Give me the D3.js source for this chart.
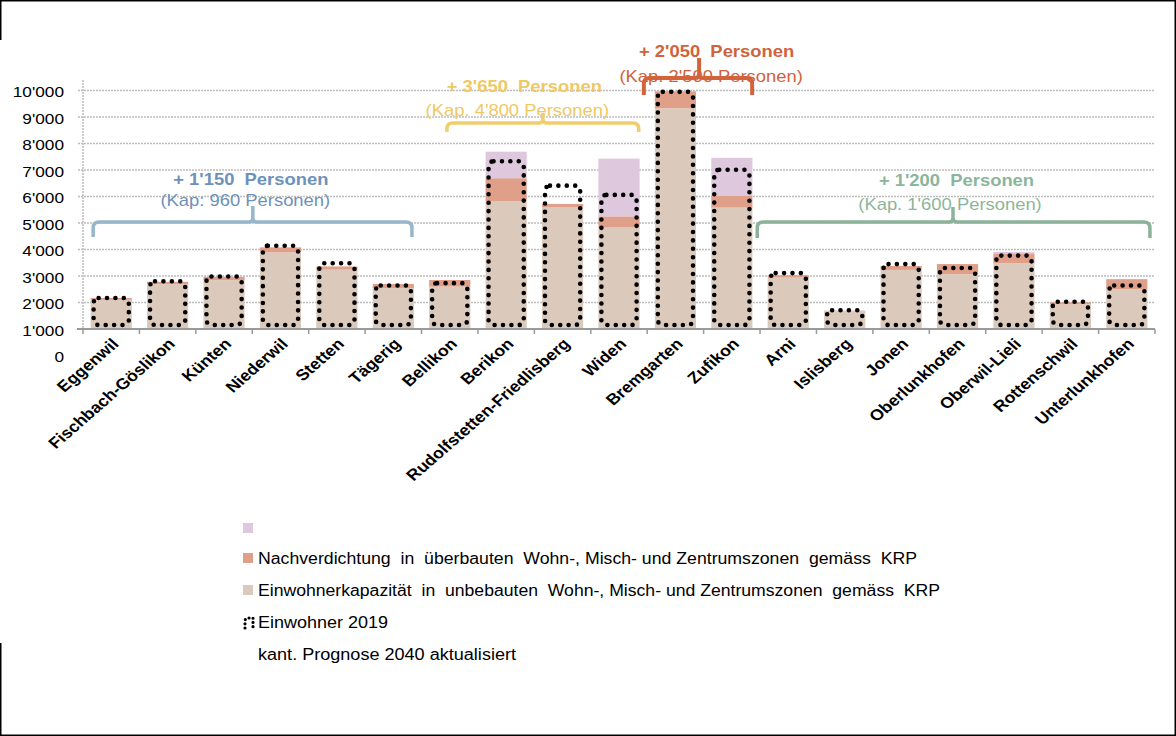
<!DOCTYPE html>
<html><head><meta charset="utf-8">
<script src="https://cdn.jsdelivr.net/npm/d3@7"></script>
<style>body{margin:0;background:#fff}svg{display:block}text{font-family:Arial,"Liberation Sans",sans-serif}</style>
</head><body><svg id="c" width="1176" height="736"></svg>
<script>
// ---------- data ----------
const categories = ["Eggenwil","Fischbach-Göslikon","Künten","Niederwil","Stetten","Tägerig","Bellikon","Berikon","Rudolfstetten-Friedlisberg","Widen","Bremgarten","Zufikon","Arni","Islisberg","Jonen","Oberlunkhofen","Oberwil-Lieli","Rottenschwil","Unterlunkhofen"];
// Einwohnerkapazität in unbebauten Zonen (beige)
const kapazitaet      = [1100,1690,1840,2890,2240,1540,1600,4820,4590,3830,8330,4580,1940,670,2230,2070,2480,930,1510];
// Nachverdichtung in überbauten Zonen (salmon)
const nachverdichtung = [70,90,130,190,120,160,250,870,130,420,640,460,90,20,150,380,350,80,370];
// unnamed series (lilac)
const ohneName        = [0,0,0,0,0,0,0,1000,0,2180,0,1420,0,0,0,0,80,0,0];
// Einwohner 2019 (dotted outline)
const einwohner2019   = [1170,1800,1980,3140,2480,1640,1730,6330,5410,5060,8950,6010,2110,710,2450,2300,2770,1030,1640];
const yTicks = [0,1000,2000,3000,4000,5000,6000,7000,8000,9000,10000];
const axisMin = 1000;
const seriesColors = ["#dbcabc","#df9f88","#ddc8dd"];
const legendLabels = ["", "Nachverdichtung  in  überbauten  Wohn-, Misch- und Zentrumszonen  gemäss  KRP", "Einwohnerkapazität  in  unbebauten  Wohn-, Misch- und Zentrumszonen  gemäss  KRP", "Einwohner 2019", "kant. Prognose 2040 aktualisiert"];
// annotations (brace groups)
const annoTitles = ["+ 1'150  Personen","+ 3'650  Personen","+ 2'050  Personen","+ 1'200  Personen"];
const annoSubs   = ["(Kap: 960 Personen)","(Kap. 4'800 Personen)","(Kap. 2'500 Personen)","(Kap. 1'600 Personen)"];
const annoFrom   = [-0.32, 5.95, 9.44, 11.45];   // category units
const annoTo     = [5.33, 9.35, 11.36, 18.41];
const annoTip    = [2.51, 7.65, 10.42, 14.92];
const annoLevel  = [5040, 8770, 10470, 5040];     // value units of brace bar
const annoTextColors  = ["#6e91b9","#efc863","#d0633b","#8bb69b"];
const annoBraceColors = ["#98b6c9","#f1cd6d","#d3633b","#8cb39a"];

// ---------- layout ----------
const SX = 1.15;
const svg = d3.select("#c");
const W = 1176, H = 736;
const x0 = 83, x1 = 1155;
const x = d3.scaleBand().domain(categories).range([x0, x1]).paddingInner(0.27).paddingOuter(0.135);
const step = x.step();
const catPos = v => x0 + (v + 0.5) * step;
const y = d3.scaleLinear().domain([axisMin, 10000]).range([329, 90.5]);
const fmt = d3.formatLocale({thousands:"'", grouping:[3], decimal:".", currency:["",""]}).format(",");

// frame
svg.append("rect").attr("x",0.75).attr("y",0.75).attr("width",W-1.5).attr("height",H-1.5)
  .attr("fill","none").attr("stroke","#000").attr("stroke-width",1.5);
svg.append("rect").attr("x",-1).attr("y",40).attr("width",4).attr("height",603).attr("fill","#fff");

// gridlines
svg.append("g").selectAll("line").data(yTicks.filter(t => t > axisMin)).join("line")
  .attr("x1", x0 - 5).attr("x2", x1).attr("y1", d => y(d)).attr("y2", d => y(d))
  .attr("stroke","#bdbdbd").attr("stroke-width",1.5).attr("stroke-dasharray","2,1");
svg.append("line").attr("x1",x0).attr("x2",x0).attr("y1",80).attr("y2",y(axisMin))
  .attr("stroke","#bdbdbd").attr("stroke-width",1.5).attr("stroke-dasharray","2,1");

// y labels
const yAxis = d3.axisLeft(y).tickValues(yTicks).tickFormat(fmt).tickSize(0);
const yg = svg.append("g").attr("transform",`translate(${x0},0)`).call(yAxis);
yg.select(".domain").remove();
yg.selectAll("text").attr("x",0).attr("dy","0.4em")
  .attr("transform",`translate(-19,0) scale(${SX},1)`)
  .attr("font-size",15).attr("font-family","Arial, 'Liberation Sans', sans-serif").attr("fill","#000");

// stacked bars
const series = [kapazitaet, nachverdichtung, ohneName];
const bars = svg.append("g");
categories.forEach((c, i) => {
  let cum = axisMin;
  series.forEach((s, k) => {
    const v = s[i];
    if (v > 0) {
      bars.append("rect").attr("x", x(c)).attr("width", x.bandwidth())
        .attr("y", y(cum + v)).attr("height", y(cum) - y(cum + v)).attr("fill", seriesColors[k]);
    }
    cum += v;
  });
});

// dotted outlines (Einwohner 2019)
svg.append("g").selectAll("rect").data(categories).join("rect")
  .attr("x", d => x(d) + 3).attr("width", x.bandwidth() - 6)
  .attr("y", (d, i) => y(axisMin + einwohner2019[i]))
  .attr("height", (d, i) => y(axisMin) - 4 - y(axisMin + einwohner2019[i]))
  .attr("rx", 5).attr("ry", 5)
  .attr("fill","none").attr("stroke","#000").attr("stroke-width",4.6)
  .attr("stroke-linecap","round").attr("stroke-dasharray","0 8.4");

// x axis
svg.append("line").attr("x1", x0 - 6).attr("x2", x1).attr("y1", y(axisMin)).attr("y2", y(axisMin))
  .attr("stroke","#9a9a9a").attr("stroke-width",2);
svg.append("g").selectAll("line").data(d3.range(categories.length + 1)).join("line")
  .attr("x1", i => x0 + i * step).attr("x2", i => x0 + i * step)
  .attr("y1", y(axisMin)).attr("y2", y(axisMin) + 5)
  .attr("stroke","#9a9a9a").attr("stroke-width",1.5);
svg.append("g").selectAll("text").data(categories).join("text")
  .attr("transform", d => `translate(${x(d) + x.bandwidth()/2 + 4},341) scale(${SX},1) rotate(-45)`)
  .attr("text-anchor","end").attr("dy","0.35em")
  .attr("font-size",15.5).attr("font-weight","bold").attr("fill","#000")
  .text(d => d);

// braces and annotation text
const titleDx = [-2, -18.5, 17.5, 3.5], subDx = [-7.5, -25.5, 12, -3];
const titleDy = [-37, -31, -21, -36], subDy = [-16, -7, 4, -12];
const drops = [15, 9, 17, 16], rises = [16, 10, 20, 15];
annoTitles.forEach((t, i) => {
  const xa = catPos(annoFrom[i]), xb = catPos(annoTo[i]), xt = catPos(annoTip[i]);
  const yh = y(annoLevel[i]);
  const drop = drops[i], rise = rises[i];
  const r = 6, s = 4;
  const g = svg.append("g");
  const tx1 = xt + titleDx[i], tx2 = xt + subDx[i];
  g.append("text").attr("x", tx1).attr("y", yh + titleDy[i])
    .attr("transform", `translate(${tx1},0) scale(${SX},1) translate(${-tx1},0)`)
    .attr("text-anchor","middle").attr("font-size",16).attr("font-weight","bold")
    .attr("fill", annoTextColors[i]).style("white-space","pre").text(t);
  g.append("text").attr("x", tx2).attr("y", yh + subDy[i])
    .attr("transform", `translate(${tx2},0) scale(${SX},1) translate(${-tx2},0)`)
    .attr("text-anchor","middle").attr("font-size",16)
    .attr("fill", annoTextColors[i]).style("white-space","pre").text(annoSubs[i]);
  const p = `M${xa},${yh+drop} L${xa},${yh+r} Q${xa},${yh} ${xa+r},${yh} L${xt-s},${yh} Q${xt},${yh} ${xt},${yh-s} L${xt},${yh-rise} ` +
            `M${xt},${yh-s} Q${xt},${yh} ${xt+s},${yh} L${xb-r},${yh} Q${xb},${yh} ${xb},${yh+r} L${xb},${yh+drop}`;
  g.append("path").attr("d", p).attr("fill","none").attr("stroke", annoBraceColors[i])
    .attr("stroke-width", i === 2 ? 4 : 3.5).attr("stroke-linecap","butt");
});

// legend
const lx = 243, baselines = [534, 564, 596, 628, 660], legendWidths = [0, 659, 682, 130, 258];
const lg = svg.append("g");
legendLabels.forEach((lab, i) => {
  if (i < 3) {
    const col = [seriesColors[2], seriesColors[1], seriesColors[0]][i];
    lg.append("rect").attr("x", lx).attr("y", baselines[i] - 11).attr("width", 10).attr("height", 10).attr("fill", col);
  } else if (i === 3) {
    lg.append("path").attr("d", `M${lx+2},${baselines[i]} L${lx+2},${baselines[i]-7} Q${lx+2},${baselines[i]-10} ${lx+6},${baselines[i]-10} L${lx+10},${baselines[i]-10} L${lx+10},${baselines[i]}`)
      .attr("fill","none").attr("stroke","#000").attr("stroke-width",3.2).attr("stroke-linecap","round").attr("stroke-dasharray","0 4.2");
  }
  if (lab) {
    lg.append("text").attr("x", 258).attr("y", baselines[i])
      .attr("textLength", legendWidths[i]).attr("lengthAdjust","spacingAndGlyphs")
      .attr("font-size", 16).attr("fill","#000").style("white-space","pre").text(lab);
  }
});
</script></body></html>
